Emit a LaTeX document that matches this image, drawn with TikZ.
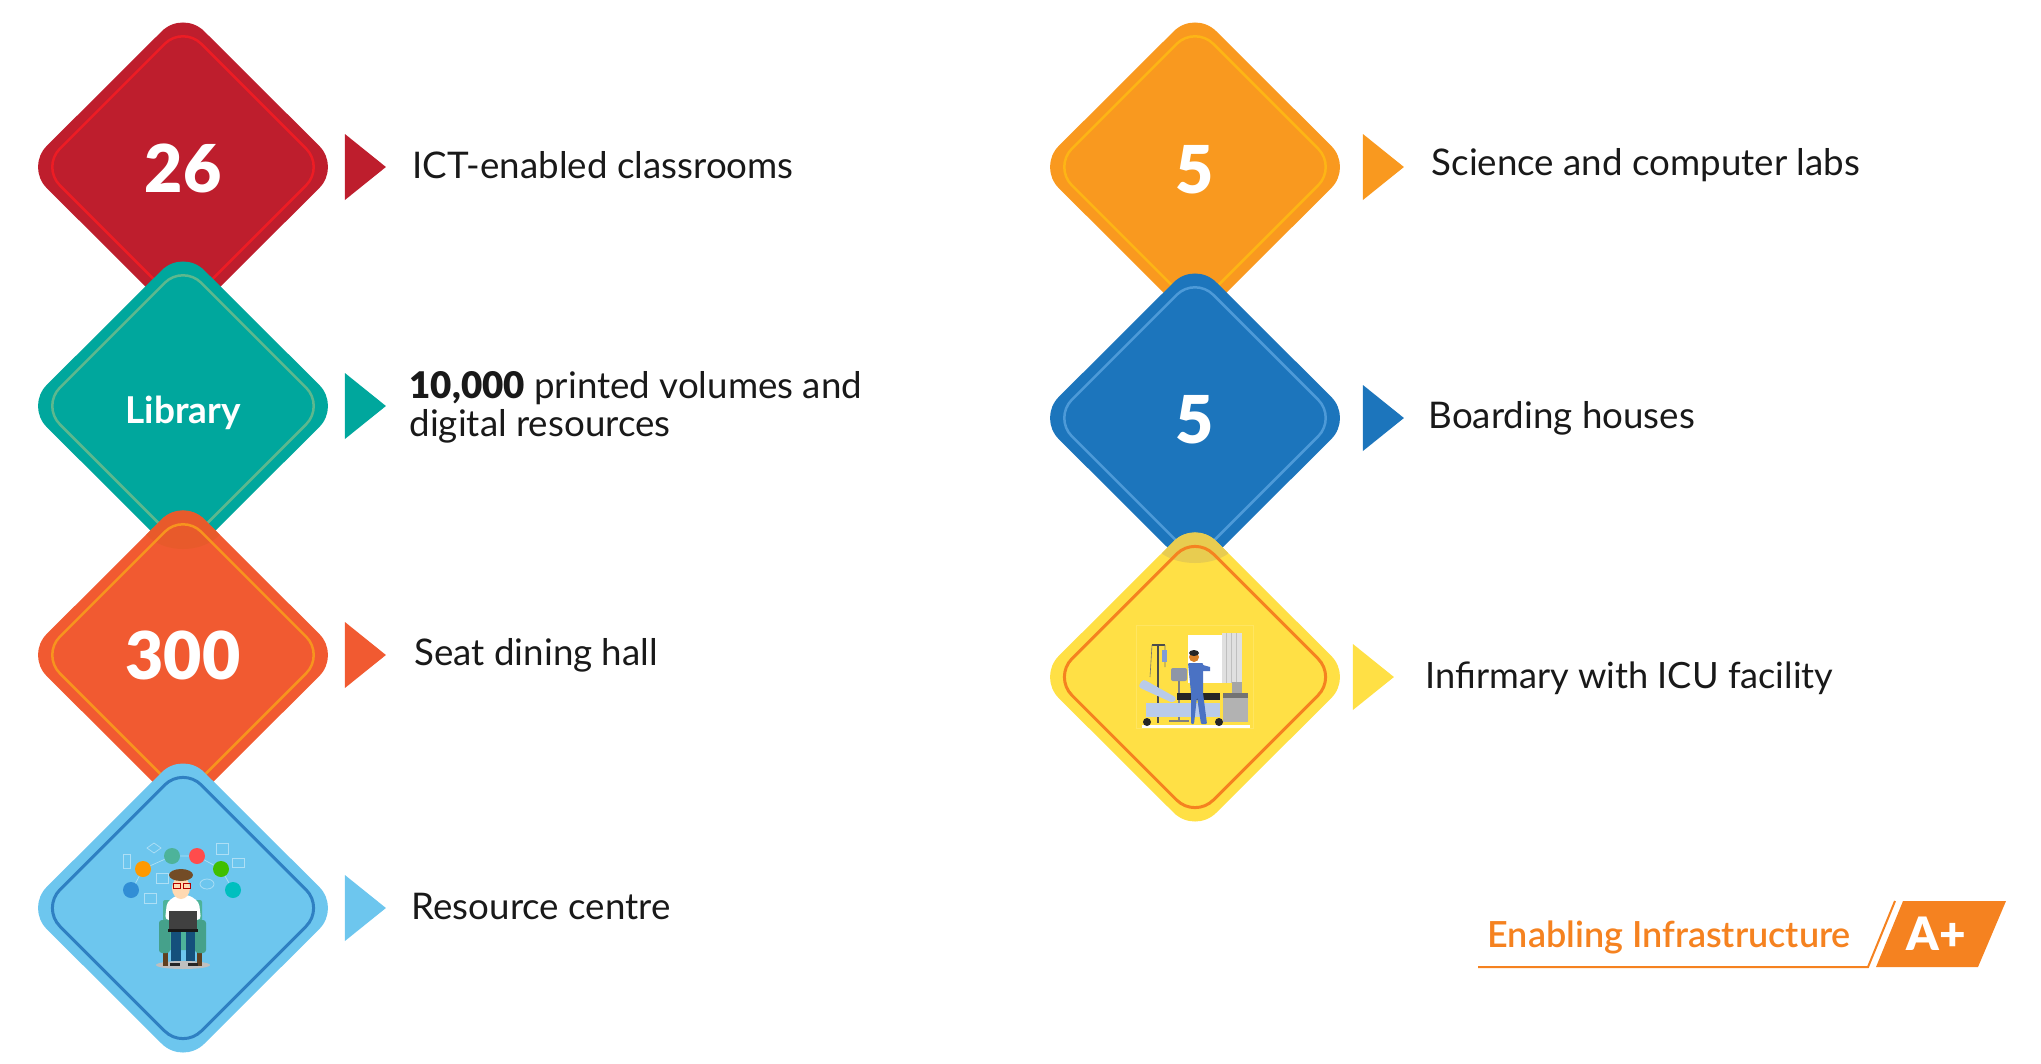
\documentclass[tikz,border=0pt]{standalone}
\usepackage{fontspec}
\setmainfont{Lato}
\newfontfamily\heavyfont{Lato Black}
\newfontfamily\tagfont{Lato Semibold}
\usetikzlibrary{positioning,shapes.geometric}
\definecolor{redtile}{HTML}{BE1E2D}
\definecolor{redring}{HTML}{ED1C24}
\definecolor{tealtile}{HTML}{00A79D}
\definecolor{tealring}{HTML}{5DB88E}
\definecolor{flametile}{HTML}{F15A31}
\definecolor{flamering}{HTML}{F7941E}
\definecolor{flameshade}{HTML}{E85A2B}
\definecolor{skytile}{HTML}{6DC6EE}
\definecolor{skyring}{HTML}{2F80C2}
\definecolor{ambertile}{HTML}{F9991F}
\definecolor{amberring}{HTML}{FDB515}
\definecolor{bluetile}{HTML}{1C75BC}
\definecolor{bluering}{HTML}{4D9AD8}
\definecolor{suntile}{HTML}{FFE045}
\definecolor{sunring}{HTML}{F58220}
\definecolor{sunshade}{HTML}{E8CC50}
\definecolor{tagcolor}{HTML}{F58220}
\definecolor{chairgreen}{HTML}{4DB39A}
\definecolor{legnavy}{HTML}{14507C}
\definecolor{bedblue}{HTML}{B9CBEA}
\definecolor{scrubblue}{HTML}{4A72C4}
\begin{document}
\begin{tikzpicture}[x=1pt,y=1pt]
\tikzstyle{tile} = [diamond, aspect=1, minimum width=315pt, minimum height=314pt, inner sep=0pt, rounded corners=30pt, text=white, font=\fontsize{66}{70}\selectfont\heavyfont]
\tikzstyle{ring} = [diamond, aspect=1, minimum width=284pt, minimum height=284pt, inner sep=0pt, rounded corners=26pt, line width=2.5pt]
\tikzstyle{pointer} = [isosceles triangle, isosceles triangle stretches, shape border rotate=0, minimum width=66pt, minimum height=41pt, inner sep=0pt]
\tikzstyle{caption} = [inner sep=0pt, anchor=west, align=left, text=black!90, font=\fontsize{36.7}{38}\selectfont]
\tikzstyle{icon} = [draw=white, opacity=0.45, line width=0.7pt]
\useasboundingbox (0,0) rectangle (2041,-1063);
% left column
\node (tileA) [tile, fill=redtile] at (183,-167) {\raisebox{-1.5pt}[\height][\depth]{26}};
\node (ringA) [ring, draw=redring] at (tileA) {};
\node (tileB) [tile, fill=tealtile, below of=tileA, node distance=239pt, font=\fontsize{37}{40}\selectfont\bfseries] {\raisebox{-6.5pt}[\height][\depth]{Library}};
\node (ringB) [ring, draw=tealring] at (tileB) {};
\node (tileC) [tile, fill=flametile, below of=tileB, node distance=249pt] {300};
\begin{scope}
\clip [rounded corners=30pt] (183,-498) -- (340,-655) -- (183,-812) -- (26,-655) -- cycle;
\fill [flameshade] (183,-515) ellipse (45pt and 34pt);
\end{scope}
\node (ringC) [ring, draw=flamering] at (tileC) {};
\node (tileD) [tile, fill=skytile, below of=tileC, node distance=253pt] {};
\node (ringD) [ring, draw=skyring, line width=3pt] at (tileD) {};
% right column
\node (tileE) [tile, fill=ambertile] at (1195,-167) {\raisebox{-3pt}[\height][\depth]{5}};
\node (ringE) [ring, draw=amberring] at (tileE) {};
\node (tileF) [tile, fill=bluetile, below of=tileE, node distance=251pt] {\raisebox{-2pt}[\height][\depth]{5}};
\node (ringF) [ring, draw=bluering] at (tileF) {};
\node (tileG) [tile, fill=suntile, below of=tileF, node distance=259pt] {};
\begin{scope}
\clip [rounded corners=30pt] (1195,-520) -- (1352,-677) -- (1195,-834) -- (1038,-677) -- cycle;
\fill [sunshade] (1195,-534) ellipse (45pt and 29pt);
\end{scope}
\node (ringG) [ring, draw=sunring, line width=3pt] at (tileG) {};
% pointers
\node (triA) [pointer, fill=redtile, right=4pt of tileA] {};
\node (triB) [pointer, fill=tealtile, right=4pt of tileB] {};
\node (triC) [pointer, fill=flametile, right=4pt of tileC] {};
\node (triD) [pointer, fill=skytile, right=4pt of tileD] {};
\node (triE) [pointer, fill=ambertile, right=10pt of tileE] {};
\node (triF) [pointer, fill=bluetile, right=10pt of tileF] {};
\node (triG) [pointer, fill=suntile, right=0pt of tileG] {};
% captions
\node (capA) [caption, right=26pt of triA, yshift=2pt] {ICT-enabled classrooms};
\node (capB) [caption, right=23pt of triB, yshift=-1pt] {{\heavyfont 10,000} printed volumes and\\digital resources};
\node (capC) [caption, right=28pt of triC, yshift=0pt] {Seat dining hall};
\node (capD) [caption, right=25pt of triD, yshift=2pt] {Resource centre};
\node (capE) [caption, right=27pt of triE, yshift=2pt] {Science and computer labs};
\node (capF) [caption, right=24pt of triF, yshift=0pt] {Boarding houses};
\node (capG) [caption, right=31pt of triG, yshift=-1pt, font=\fontsize{36.2}{38}\selectfont] {Infirmary with ICU facility};
% resource centre figure
\begin{scope}[shift={(tileD.center)}]
\fill [black!25] (0,-57) ellipse (27pt and 4pt);
\draw [icon] (-51,18) -- (-40,39) -- (-11,52) -- (14,52) -- (38,39) -- (50,18);
\draw [icon] (-60,40) rectangle (-53,54);
\draw [icon] (-36,60) -- (-29,65) -- (-22,60) -- (-29,55) -- cycle;
\draw [icon] (33,54) rectangle (45,65);
\draw [icon] (49,41) rectangle (61,50);
\draw [icon] (24,24) ellipse (7pt and 5pt);
\draw [icon] (-27,25) rectangle (-15,35);
\draw [icon] (-39,5) rectangle (-27,15);
\fill [cyan!65!blue!85] (-52,18) circle (8pt);
\fill [orange!80!yellow] (-40,39) circle (8pt);
\fill [chairgreen] (-11,52) circle (8pt);
\fill [red!70!white] (14,52) circle (8pt);
\fill [green!50!olive] (38,39) circle (8pt);
\fill [teal!50!cyan] (50,18) circle (8pt);
\fill [brown!50!black] (-20,-44) rectangle (-15,-58);
\fill [brown!50!black] (14,-44) rectangle (19,-58);
\fill [chairgreen, rounded corners=2pt] (-20,8) rectangle (19,-42);
\fill [chairgreen!90!black, rounded corners=3pt] (-24,-12) rectangle (-13,-45);
\fill [chairgreen!90!black, rounded corners=3pt] (12,-12) rectangle (23,-45);
\fill [white, rounded corners=4pt] (-18,-12) -- (-16,6) -- (-6,13) -- (6,13) -- (16,6) -- (18,-12) -- cycle;
\fill [legnavy] (-12,-23) rectangle (-2,-53);
\fill [legnavy] (3,-23) rectangle (12,-53);
\fill [black!85] (-13,-55) rectangle (-3,-58);
\fill [black!85] (5,-55) rectangle (15,-58);
\fill [black!75] (-14,-3) rectangle (14,-21);
\fill [black!90] (-15,-21) rectangle (15,-24);
\fill [orange!30!white] (-2,20) ellipse (9pt and 11pt);
\fill [brown!60!black] (-2,33) ellipse (12pt and 6pt);
\draw [red!70!black, line width=1pt] (-10,20) rectangle (-3,25) (0,20) rectangle (7,25);
\end{scope}
% infirmary figure
\begin{scope}[shift={(tileG.center)}]
\draw [suntile!85!white, line width=0.5pt] (-59,-51) rectangle (58,52);
\fill [white] (-7,42) rectangle (47,-6);
\fill [black!12] (27,44) rectangle (47,-6);
\foreach \i in {31,36,41} \draw [black!25, line width=0.5pt] (\i,44) -- (\i,-6);
\fill [white] (-53,-48) rectangle (55,-51);
\draw [black!70, line width=1.2pt] (-37,32) -- (-37,-46) (-43,32) -- (-30,32);
\draw [black!55, line width=0.6pt] (-43,32) -- (-45,0) (-30,32) -- (-30,10);
\fill [scrubblue!70!white] (-33,15) rectangle (-28,27);
\draw [black!50, line width=1.5pt] (-16,-2) -- (-16,-44) (-26,-44) -- (-6,-44);
\fill [scrubblue!40!black!50, rounded corners=2pt] (-24,-4) rectangle (-8,9);
\fill [bedblue] (-49,-26) rectangle (25,-40);
\fill [bedblue, rounded corners=3pt] (-57,-10) -- (-52,-2) -- (-18,-21) -- (-22,-26) -- cycle;
\fill [black!85] (-18,-16) rectangle (25,-23);
\fill [black!85] (-48,-45) circle (4pt);
\fill [black!85] (24,-45) circle (4pt);
\fill [black!35] (37,-5) rectangle (47,-16);
\fill [black!30] (28,-16) rectangle (53,-45);
\fill [black!55] (28,-16) rectangle (53,-21);
\fill [scrubblue, rounded corners=1pt] (-7,14) -- (8,14) -- (8,-16) -- (12,-47) -- (6,-47) -- (2,-20) -- (-1,-47) -- (-4,-47) -- (-4,-16) -- cycle;
\fill [orange!40!brown] (-1,20) circle (5pt);
\fill [black!85] (-1,24) ellipse (5pt and 3pt);
\fill [scrubblue] (8,12) -- (15,10) -- (15,6) -- (8,6) -- cycle;
\end{scope}
% footer tag
\coordinate (tagL) at (1478,-967);
\coordinate (tagM) at (1868,-967);
\coordinate (tagT) at (1895,-901);
\coordinate (boxA) at (1876,-967);
\coordinate (boxB) at (1903,-901);
\coordinate (boxC) at (2006,-901);
\coordinate (boxD) at (1978,-967);
\draw [tagcolor, line width=2pt] (tagL) -- (tagM) -- (tagT);
\fill [tagcolor] (boxA) -- (boxB) -- (boxC) -- (boxD) -- cycle;
\node (tagbox) [inner sep=0pt, text=white, font=\fontsize{46}{50}\selectfont\heavyfont] at (1936,-934) {A+};
\node (tagtext) [inner sep=0pt, anchor=east, text=tagcolor, font=\fontsize{36}{40}\selectfont\tagfont] at (1851,-937) {Enabling Infrastructure};
\end{tikzpicture}
\end{document}
